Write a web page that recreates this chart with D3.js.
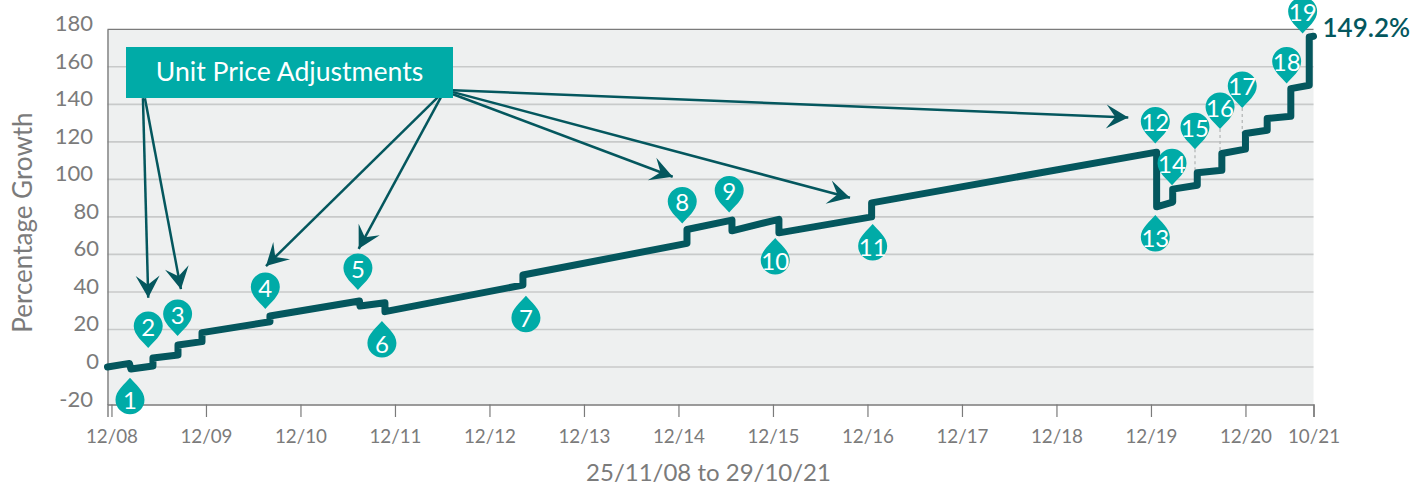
<!DOCTYPE html>
<html>
<head>
  <meta charset="UTF-8">
  <script src="https://d3js.org/d3.v7.min.js"></script>
  <style>
    body { margin: 0; background: #fff; }
    text { font-family: Lato, "Open Sans", sans-serif; }
  </style>
</head>
<body>
<script>
// x values are in years counted from the 12/08 tick
var tickYears = [0,1,2,3,4,5,6,7,8,9,10,11,12,12.72];
var tickLabels = ['12/08','12/09','12/10','12/11','12/12','12/13','12/14','12/15','12/16','12/17','12/18','12/19','12/20','10/21'];
var yTicks = [-20,0,20,40,60,80,100,120,140,160,180];

// the growth line, step by step
var lineYears = [-0.042,0.19,0.206,0.439,0.439,0.704,0.704,0.958,0.958,1.677,1.677,2.624,2.63,2.894,2.894,4.354,4.354,6.09,6.09,6.566,6.566,7.063,7.063,8.044,8.044,11.06,11.06,11.23,11.23,11.49,11.49,11.75,11.75,12,12,12.23,12.23,12.48,12.48,12.675,12.675,12.72];
var lineValues = [0,1.9,-1.1,0.5,4.8,6.4,11.7,13.5,18.3,24.1,27.2,35.2,32.5,34.2,29.5,43.7,49,65.9,73.3,78.3,72.6,78.7,71.5,80,87.5,114.5,85.4,87.9,94.8,96.9,103.5,104.9,113.8,116.1,124.5,126.2,132.5,133.7,148.4,150.2,175.9,176.3];

// numbered markers, the year/value is where the tip of the pin sits
var pinLabels = [1,2,3,4,5,6,7,8,9,10,11,12,13,14,15,16,17,18,19];
var pinYears = [0.196,0.389,0.70,1.628,2.608,2.862,4.386,6.04,6.537,7.024,8.055,11.046,11.046,11.223,11.466,11.731,11.966,12.436,12.605];
var pinValues = [-5.7,10.1,16.5,30.9,41,24.5,38,76.5,82.4,68.7,76.2,119.1,81,96.9,116.1,126.8,138.1,151.1,177.7];
var pinUp = [1,0,0,0,0,1,1,0,0,1,1,0,1,0,0,0,0,0,0];

// dotted drop lines under pins 15, 16 and 17
var dropYears = [11.466,11.731,11.966];
var dropFrom = [116.1,126.8,138.1];
var dropTo = [103,113.5,124.5];

// arrows from the Unit Price Adjustments box
var arrowFromYears = [0.333,0.354,3.476,3.487,3.614,3.614,3.614];
var arrowFromValues = [143.3,143.3,144.9,143.8,145.4,146.5,147.5];
var arrowToYears = [0.389,0.735,1.635,2.616,5.939,7.815,10.76];
var arrowToValues = [36.9,41.5,53.8,63,101.4,90.2,133];

var endLabel = '149.2%';
var boxLabel = 'Unit Price Adjustments';
var yTitle = 'Percentage Growth';
var xTitle = '25/11/08 to 29/10/21';

var width = 1428, height = 486;
var teal = '#00aba7', dark = '#04575e', grey = '#7b7b7b';

var svg = d3.select('body').append('svg').attr('width', width).attr('height', height)
  .style('display', 'block');

var x = d3.scaleLinear().domain([-0.042, 12.72]).range([107.5, 1313.5]);
var y = d3.scaleLinear().domain([-20, 180]).range([404.5, 29.3]);

// plot background
svg.append('rect')
  .attr('x', x.range()[0]).attr('y', y.range()[1])
  .attr('width', x.range()[1] - x.range()[0])
  .attr('height', y.range()[0] - y.range()[1])
  .attr('fill', '#eef0f0');

// grid
svg.append('g').selectAll('line')
  .data(yTicks.filter(function(d) { return d > -20 && d < 180; }))
  .join('line')
  .attr('x1', x.range()[0]).attr('x2', x.range()[1])
  .attr('y1', function(d) { return y(d); })
  .attr('y2', function(d) { return y(d); })
  .attr('stroke', '#c8caca').attr('stroke-width', 1.6);

// top edge
svg.append('line')
  .attr('x1', x.range()[0]).attr('x2', x.range()[1])
  .attr('y1', y(180)).attr('y2', y(180))
  .attr('stroke', grey).attr('stroke-width', 1.2);

// y axis
var yAxis = svg.append('g')
  .attr('transform', 'translate(' + x.range()[0] + ',0)')
  .call(d3.axisLeft(y).tickValues(yTicks).tickSize(0).tickFormat(function(d) { return d; }));
yAxis.select('.domain').attr('stroke', grey).attr('stroke-width', 1.4);
yAxis.selectAll('text')
  .attr('font-size', 22)
  .attr('fill', grey)
  .attr('dy', 0)
  .attr('y', -7)
  .attr('dominant-baseline', 'central')
  .attr('x', function(d) { return String(d).length > 2 ? -14.5 : -8.5; });

// x axis
var xAxis = svg.append('g')
  .attr('transform', 'translate(0,' + y.range()[0] + ')')
  .call(d3.axisBottom(x).tickValues(tickYears).tickSize(12.5).tickPadding(13)
    .tickFormat(function(d, i) { return tickLabels[i]; }));
xAxis.select('.domain').attr('stroke', grey).attr('stroke-width', 1.4);
xAxis.selectAll('.tick line').attr('stroke', grey).attr('stroke-width', 1.2);
xAxis.selectAll('text').attr('font-size', 18.8).attr('fill', grey);

// titles
svg.append('text')
  .attr('transform', 'translate(32,222.5) rotate(-90)')
  .attr('text-anchor', 'middle')
  .attr('font-size', 26).attr('fill', grey)
  .text(yTitle);
svg.append('text')
  .attr('x', 708.5).attr('y', 481)
  .attr('text-anchor', 'middle')
  .attr('font-size', 24).attr('fill', grey)
  .text(xTitle);

// dotted drop lines
svg.append('g').selectAll('line')
  .data(dropYears)
  .join('line')
  .attr('x1', function(d) { return x(d); })
  .attr('x2', function(d) { return x(d); })
  .attr('y1', function(d, i) { return y(dropFrom[i]); })
  .attr('y2', function(d, i) { return y(dropTo[i]); })
  .attr('stroke', '#b5b8b8').attr('stroke-width', 1.3).attr('stroke-dasharray', '3,3');

// growth line
var line = d3.line()
  .x(function(d) { return x(d); })
  .y(function(d, i) { return y(lineValues[i]); });
svg.append('path')
  .attr('d', line(lineYears))
  .attr('fill', 'none')
  .attr('stroke', dark).attr('stroke-width', 7)
  .attr('stroke-linejoin', 'round').attr('stroke-linecap', 'round');

svg.append('text')
  .attr('x', x(12.72) + 9).attr('y', y(176.3) - 9)
  .attr('dominant-baseline', 'central')
  .attr('font-size', 26).attr('font-weight', 600).attr('fill', dark)
  .text(endLabel);

// arrows, drawn before the box so that they start behind it
var arrows = svg.append('g').selectAll('g')
  .data(arrowToYears)
  .join('g');
arrows.append('line')
  .attr('x1', function(d, i) { return x(arrowFromYears[i]); })
  .attr('y1', function(d, i) { return y(arrowFromValues[i]); })
  .attr('x2', function(d) { return x(d); })
  .attr('y2', function(d, i) { return y(arrowToValues[i]); })
  .attr('stroke', dark).attr('stroke-width', 2.5);
arrows.append('path')
  .attr('d', 'M0,0L-22,-12L-13,0L-22,12Z')
  .attr('fill', dark)
  .attr('transform', function(d, i) {
    var dx = x(d) - x(arrowFromYears[i]);
    var dy = y(arrowToValues[i]) - y(arrowFromValues[i]);
    return 'translate(' + x(d) + ',' + y(arrowToValues[i]) + ') rotate(' + Math.atan2(dy, dx) * 180 / Math.PI + ')';
  });

// label box
svg.append('rect')
  .attr('x', 126).attr('y', 47).attr('width', 327).attr('height', 51)
  .attr('fill', teal);
svg.append('text')
  .attr('x', 289.5).attr('y', 71)
  .attr('text-anchor', 'middle').attr('dominant-baseline', 'central')
  .attr('font-size', 26.6).attr('fill', '#fff')
  .text(boxLabel);

// pins
var pinPath = 'M0,0C-5,-6,-14.5,-13,-14.5,-22A14.5,14.5,0,1,1,14.5,-22C14.5,-13,5,-6,0,0Z';
var pins = svg.append('g').selectAll('g')
  .data(pinLabels)
  .join('g')
  .attr('transform', function(d, i) { return 'translate(' + x(pinYears[i]) + ',' + y(pinValues[i]) + ')'; });
pins.append('path')
  .attr('d', pinPath)
  .attr('fill', teal)
  .attr('transform', function(d, i) { return pinUp[i] ? 'scale(1,-1)' : null; });
pins.append('text')
  .attr('y', function(d, i) { return pinUp[i] ? 22 : -22; })
  .attr('text-anchor', 'middle').attr('dominant-baseline', 'central')
  .attr('font-size', 24).attr('fill', '#fff')
  .text(function(d) { return d; });
</script>
</body>
</html>
